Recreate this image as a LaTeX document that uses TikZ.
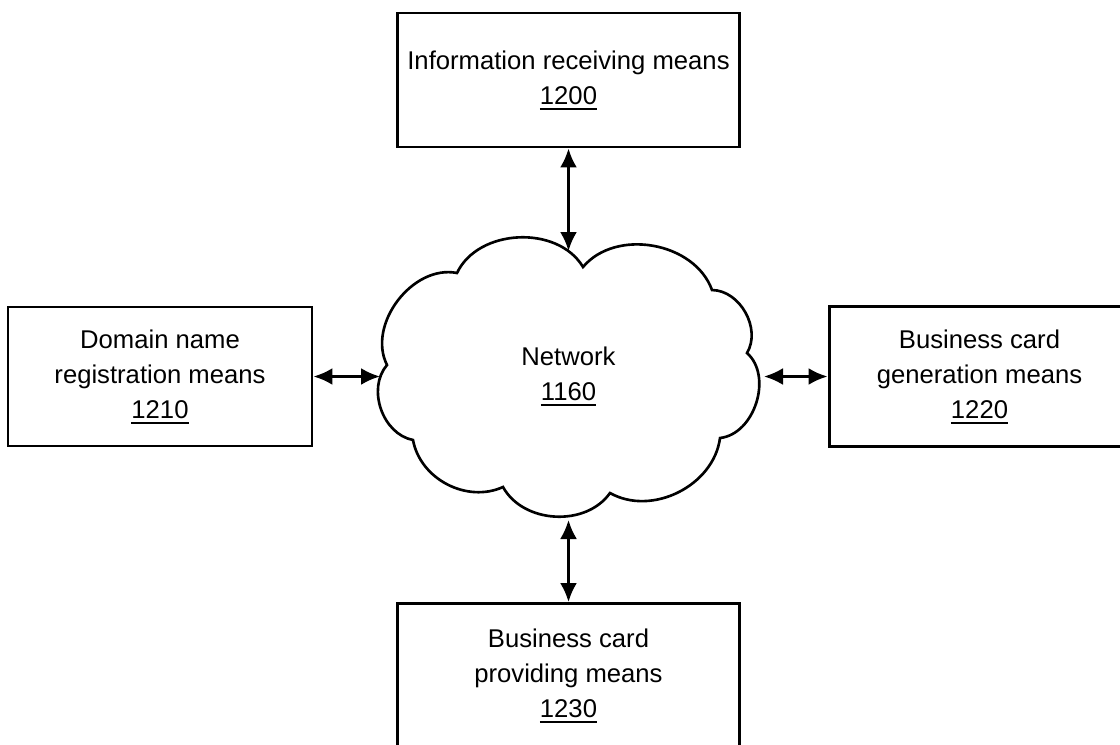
\documentclass[tikz,border=0pt]{standalone}
\usepackage{fontspec}
\setmainfont{Liberation Sans}
\usetikzlibrary{arrows.meta}
\newcommand{\refnum}[1]{\setbox0=\hbox{#1}\leavevmode\rlap{\rule[-3pt]{\wd0}{1.1pt}}\box0}

\begin{document}
\begin{tikzpicture}[
   every node/.style={font=\fontsize{14.6}{20}\selectfont},
   meansbox/.style={draw, line width=1.7pt, align=center, inner sep=0pt},
   link/.style={{Latex[length=0.38cm,width=0.34cm]}-{Latex[length=0.38cm,width=0.34cm]}, line width=1.5pt}]
   \useasboundingbox (0,0) rectangle (22.4,14.88);
   \clip (0,0) rectangle (22.4,14.88);
   \node[meansbox, minimum width=6.84cm, minimum height=2.68cm] (info) at (11.37,13.28) {Information receiving means\\\refnum{1200}};
   \node[meansbox, minimum width=6.08cm, minimum height=2.78cm] (domain) at (3.2,7.35) {Domain name\\registration means\\\refnum{1210}};
   \node[meansbox, minimum width=6.02cm, minimum height=2.8cm] (cardgen) at (19.59,7.35) {Business card\\generation means\\\refnum{1220}};
   \node[meansbox, minimum width=6.84cm, minimum height=2.9cm] (cardprov) at (11.37,1.36) {Business card\\providing means\\\refnum{1230}};
   \draw[line width=1.5pt] (9.14,9.42) to[bend left=62] (11.66,9.54) to[bend left=60] (14.24,9.08)
      to[bend left=60] (14.94,7.82) to[bend left=66] (14.40,6.12) to[bend left=56] (12.20,5.02)
      to[bend left=58] (10.06,5.14) to[bend left=52] (8.26,6.08) to[bend left=60] (7.74,7.58)
      to[bend left=64] cycle;
   \node[align=center] (net) at (11.37,7.36) {Network\\\refnum{1160}};
   \coordinate (nettop) at (11.37,9.86);
   \coordinate (netbot) at (11.37,4.48);
   \coordinate (netleft) at (7.6,7.35);
   \coordinate (netright) at (15.28,7.35);
   \draw[link] (info.south) -- (nettop);
   \draw[link] (cardprov.north) -- (netbot);
   \draw[link] (domain.east) -- (netleft);
   \draw[link] (netright) -- (cardgen.west);
\end{tikzpicture}
\end{document}
